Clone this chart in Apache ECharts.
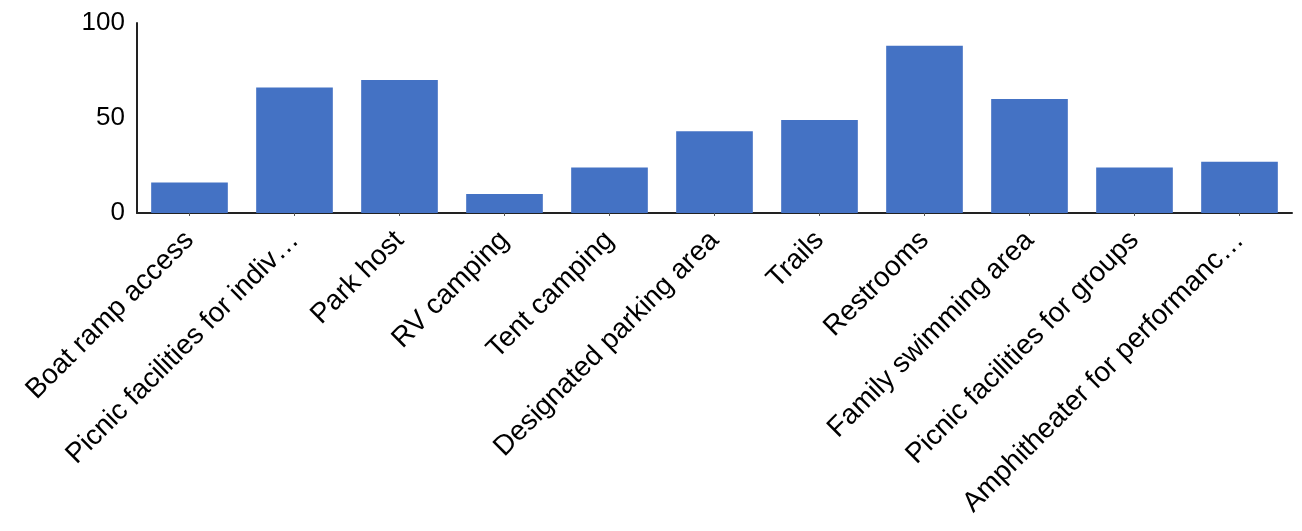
<!DOCTYPE html>
<html>
<head>
<meta charset="utf-8">
<script src="https://cdn.jsdelivr.net/npm/echarts@6/dist/echarts.min.js"></script>
<style>html,body{margin:0;padding:0;background:#fff}#c{width:1302px;height:531px}</style>
</head>
<body>
<div id="c"></div>
<script>
const categories = ["Boat ramp access","Picnic facilities for indiv…","Park host","RV camping","Tent camping","Designated parking area","Trails","Restrooms","Family swimming area","Picnic facilities for groups","Amphitheater for performanc…"];
const values = [16, 66, 70, 10, 24, 43, 49, 88, 60, 24, 27];
const yTicks = [0, 50, 100];

const chart = echarts.init(document.getElementById('c'), null, {renderer: 'canvas'});
chart.setOption({
  animation: false,
  grid: {left: 137, right: 10, top: 23, bottom: 318, containLabel: false},
  xAxis: {
    type: 'category',
    data: categories,
    axisLine: {lineStyle: {color: '#222', width: 2}},
    axisTick: {show: true, alignWithLabel: true, length: 3, lineStyle: {color: '#555'}},
    axisLabel: {rotate: 45, interval: 0, margin: 23, fontFamily: 'Liberation Sans, Arial, sans-serif', fontSize: 28, color: '#000'}
  },
  yAxis: {
    type: 'value',
    min: yTicks[0], max: yTicks[yTicks.length - 1], interval: 50,
    axisLine: {show: true, lineStyle: {color: '#222', width: 2}},
    axisTick: {show: false},
    splitLine: {show: false},
    axisLabel: {margin: 12, fontFamily: 'Liberation Sans, Arial, sans-serif', fontSize: 26, color: '#000'}
  },
  series: [{
    type: 'bar',
    data: values,
    barWidth: '73%',
    itemStyle: {color: '#4472C4'}
  }]
});
</script>
</body>
</html>
